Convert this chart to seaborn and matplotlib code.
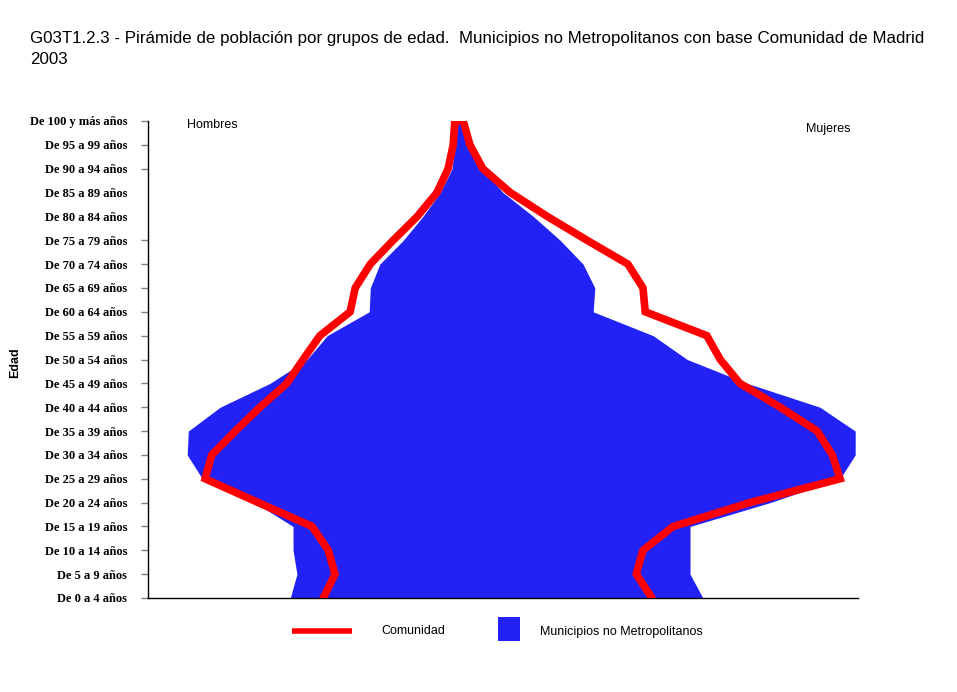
import numpy as np
import pandas as pd
import matplotlib
matplotlib.use('Agg')
import matplotlib.pyplot as plt
import seaborn as sns
from matplotlib.lines import Line2D
from matplotlib.patches import Rectangle

# ========== Datos (% de poblacion) ==========
grupos = ['De 0 a 4 años', 'De 5 a 9 años', 'De 10 a 14 años', 'De 15 a 19 años',
          'De 20 a 24 años', 'De 25 a 29 años', 'De 30 a 34 años', 'De 35 a 39 años',
          'De 40 a 44 años', 'De 45 a 49 años', 'De 50 a 54 años', 'De 55 a 59 años',
          'De 60 a 64 años', 'De 65 a 69 años', 'De 70 a 74 años', 'De 75 a 79 años',
          'De 80 a 84 años', 'De 85 a 89 años', 'De 90 a 94 años', 'De 95 a 99 años',
          'De 100 y más años']

# Comunidad (linea roja)
com_hombres = [2.39, 2.18, 2.30, 2.59, 3.55, 4.50, 4.38, 3.96, 3.52, 3.04, 2.75,
               2.45, 1.91, 1.82, 1.55, 1.14, 0.71, 0.36, 0.16, 0.07, 0.04]
com_mujeres = [3.48, 3.20, 3.32, 3.86, 5.23, 6.84, 6.70, 6.43, 5.77, 5.05, 4.70,
               4.46, 3.36, 3.32, 3.05, 2.32, 1.61, 0.95, 0.46, 0.23, 0.11]

# Municipios no Metropolitanos (area azul)
mun_hombres = [2.98, 2.86, 2.93, 2.93, 3.61, 4.55, 4.82, 4.80, 4.23, 3.34, 2.68,
               2.32, 1.57, 1.55, 1.38, 0.96, 0.61, 0.30, 0.09, 0.04, 0.02]
mun_mujeres = [4.39, 4.16, 4.16, 4.16, 5.59, 6.84, 7.11, 7.11, 6.48, 5.18, 4.11,
               3.50, 2.43, 2.46, 2.25, 1.84, 1.36, 0.82, 0.45, 0.18, 0.04]

titulo = 'G03T1.2.3 - Pirámide de población por grupos de edad.  Municipios no Metropolitanos con base Comunidad de Madrid'
anio = '2003'

ROJO = '#ff0000'
AZUL = '#2222f6'

# ========== Figura ==========
sns.set_style('white')
plt.rcParams['font.family'] = ['Liberation Sans', 'DejaVu Sans']
plt.rcParams['text.color'] = 'black'
plt.rcParams['ytick.color'] = 'black'
plt.rcParams['axes.labelcolor'] = 'black'

fig = plt.figure(figsize=(9.57, 6.92), dpi=100)
ax = fig.add_axes([148 / 957, 1 - 598 / 692, 710 / 957, 477 / 692])

pos = np.arange(len(grupos))

# area azul: hombres a la izquierda, mujeres a la derecha
ax.fill_betweenx(pos, -np.array(mun_hombres), np.array(mun_mujeres),
                 color=AZUL, linewidth=0, zorder=1)

# linea roja continua: sube por hombres y baja por mujeres
df_com = pd.DataFrame({
    'x': list(-np.array(com_hombres)) + list(com_mujeres[::-1]),
    'y': list(pos) + list(pos[::-1]),
})
sns.lineplot(data=df_com, x='x', y='y', sort=False, estimator=None,
             color=ROJO, linewidth=5.5, ax=ax, zorder=3)
ax.lines[-1].set_solid_joinstyle('miter')

ax.set_xlim(-5.52, 7.16)
ax.set_ylim(0, 20)

ax.set_yticks(pos)
ax.set_yticklabels(grupos, fontfamily='Liberation Serif', fontweight='bold',
                   fontsize=9, color='black')
ax.set_xticks([])
ax.tick_params(axis='y', length=5, width=1, color='#808080', pad=10, left=True)
for k in (16, 17):
    ax.yaxis.get_major_ticks()[k].tick1line.set_visible(False)

ax.set_xlabel('')
ax.set_ylabel('')
for s in ['top', 'right']:
    ax.spines[s].set_visible(False)
for s in ['left', 'bottom']:
    ax.spines[s].set_color('black')
    ax.spines[s].set_linewidth(1)

fig.text(187 / 957, 1 - 125 / 692, 'Hombres', fontsize=9, va='center', ha='left')
fig.text(806 / 957, 1 - 129 / 692, 'Mujeres', fontsize=9, va='center', ha='left')

fig.text(15 / 957, 1 - 363 / 692, 'Edad', rotation=90, fontsize=9,
         fontweight='bold', va='center', ha='center')

fig.text(30 / 957, 1 - 39 / 692, titulo, fontsize=12.2, va='center', ha='left')
fig.text(30 / 957, 1 - 60 / 692, anio, fontsize=12.2, va='center', ha='left')

# ========== Leyenda ==========
fig.add_artist(Line2D([292 / 957, 352 / 957], [1 - 631 / 692, 1 - 631 / 692],
                      color=ROJO, linewidth=4, solid_capstyle='butt'))
fig.text(381 / 957, 1 - 631 / 692, 'Comunidad', fontsize=9, va='center', ha='left')
fig.add_artist(Rectangle((498 / 957, 1 - 641 / 692), 22 / 957, 24 / 692,
                         facecolor=AZUL, edgecolor='none'))
fig.text(540 / 957, 1 - 632 / 692, 'Municipios no Metropolitanos', fontsize=9,
         va='center', ha='left')

fig.savefig('out.png', dpi=100)
